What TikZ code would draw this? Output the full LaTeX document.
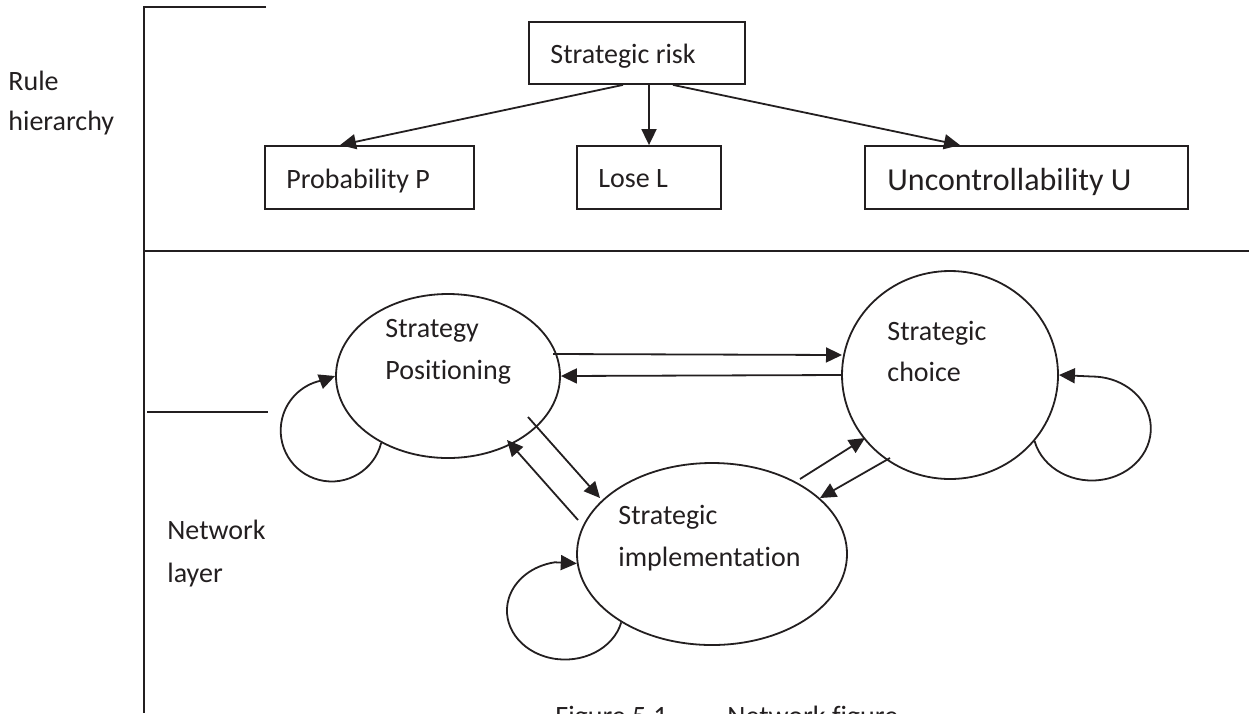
\documentclass[tikz,border=0pt]{standalone}
\usepackage{fontspec}
\setmainfont{Carlito}[Ligatures=NoCommon]
\usetikzlibrary{arrows.meta,calc,shapes.geometric}
\definecolor{ink}{HTML}{231F20}
\tikzset{
  base/.style={line width=0.9pt, draw=ink, color=ink},
  txt/.style={anchor=base west, inner sep=0pt, text=ink, font=\fontsize{14}{17}\selectfont},
  bigtxt/.style={txt, font=\fontsize{16}{19}\selectfont},
  rbox/.style={draw=ink, line width=0.9pt, rectangle, inner sep=0pt},
  ell/.style={draw=ink, line width=0.9pt, ellipse, inner sep=0pt},
  arr/.style={line width=0.9pt, draw=ink, -{Triangle[length=8pt,width=7.5pt]}},
}
\begin{document}
\begin{tikzpicture}[x=0.5pt,y=0.5pt]
\useasboundingbox (0,0) rectangle (1251,-713);
\clip (0,0) rectangle (1251,-713);
% frame lines
\draw[base] (266,-7) -- (144,-7) -- (144,-713);
\draw[base] (144,-251) -- (1249,-251);
\draw[base] (147,-412) -- (268,-412);
% side labels
\node[txt] (rh1) at (8,-90) {Rule};
\node[txt] (rh2) at (8,-130) {hierarchy};
\node[txt] (nl1) at (167,-539) {Network};
\node[txt] (nl2) at (167,-582) {layer};
% rule hierarchy boxes
\node[rbox, minimum width=108pt, minimum height=31pt] (SR) at (637,-53) {};
\node[rbox, minimum width=104.5pt, minimum height=31.5pt] (P) at (369.5,-177.5) {};
\node[rbox, minimum width=72pt, minimum height=31.5pt] (L) at (649,-177.5) {};
\node[rbox, minimum width=161.5pt, minimum height=31.5pt] (U) at (1026.5,-177.5) {};
\node[txt] (SRt) at (550,-63) {Strategic risk};
\node[txt] (Pt) at (286,-188) {Probability P};
\node[txt] (Lt) at (598,-187) {Lose L};
\node[bigtxt] (Ut) at (887,-190) {Uncontrollability U};
\draw[arr] ($(SR.south)+(-14,0)$) -- ($(P.north)+(-29.5,0)$);
\draw[arr] (L.north |- SR.south) -- (L.north);
\draw[arr] ($(SR.south)+(36,0)$) -- ($(U.north)+(-66.5,0)$);
% network layer
\node[ell, minimum width=112pt, minimum height=82pt] (SP) at (448,-376) {};
\node[ell, minimum width=108pt, minimum height=104pt] (SC) at (950,-375) {};
\node[ell, minimum width=135pt, minimum height=91pt] (SI) at (712,-554) {};
\node[txt] (SPt1) at (385,-337) {Strategy};
\node[txt] (SPt2) at (385,-379) {Positioning};
\node[txt] (SCt1) at (887,-340) {Strategic};
\node[txt] (SCt2) at (887,-381) {choice};
\node[txt] (SIt1) at (618,-524) {Strategic};
\node[txt] (SIt2) at (618,-566) {implementation};
% connectors between states
\draw[arr] ($(SP)+(105,22)$) -- ($(SC)+(-108,20)$);
\draw[arr] (SC.west) -- (SP.east);
\draw[arr] ($(SP)+(80,-41)$) -- ($(SI)+(-112,56)$);
\draw[arr] ($(SI)+(-134,34)$) -- ($(SP)+(59,-64)$);
\draw[arr] ($(SI)+(88,75)$) -- ($(SC)+(-85,-63)$);
\draw[arr] ($(SC)+(-60,-83)$) -- ($(SI)+(108,56)$);
% self loops
\draw[arr] (SP.225) arc[start angle=-14, end angle=-262, radius=51] -- (SP.west);
\draw[arr] (SC.322) arc[start angle=194, end angle=450, x radius=59, y radius=52] -- (SC.east);
\draw[arr] (SI.217) arc[start angle=-14, end angle=-260, x radius=58, y radius=49] -- (SI.184);
% caption (cut off at bottom, as in the reference)
\node[txt] (cap1) at (555,-725) {Figure 5.1};
\node[txt] (cap2) at (727,-725) {Network figure};
\end{tikzpicture}
\end{document}
